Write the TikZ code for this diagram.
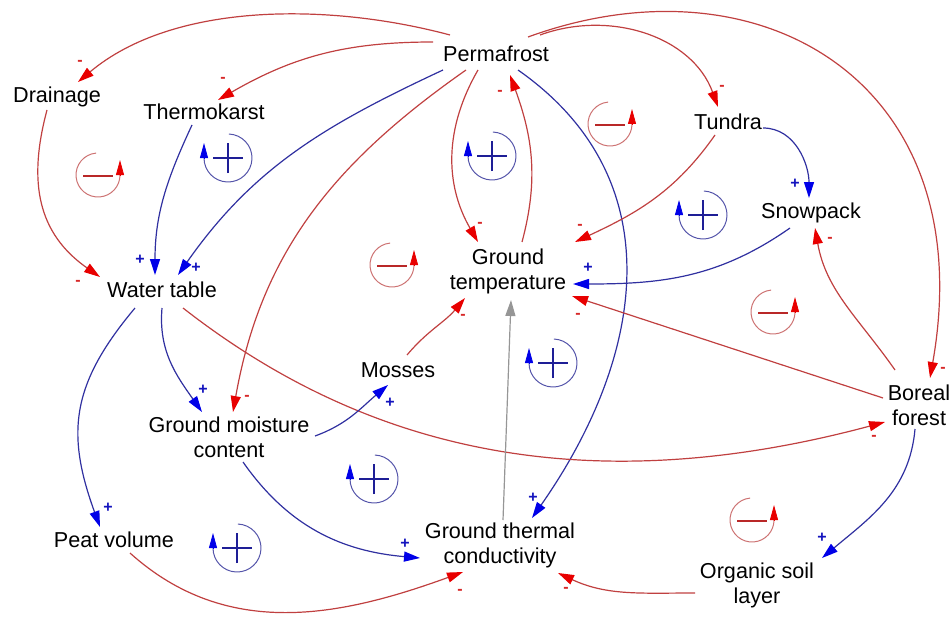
\documentclass[tikz,border=0pt]{standalone}
\usepackage{fontspec}
\setmainfont{Liberation Sans}
\usepackage{xcolor}
\usepackage{tikz}
\usetikzlibrary{arrows.meta}

\definecolor{negline}{RGB}{192,64,64}
\definecolor{posline}{RGB}{48,48,160}
\definecolor{negtip}{RGB}{232,0,0}
\definecolor{postip}{RGB}{0,0,232}
\definecolor{negsign}{RGB}{215,40,40}
\definecolor{possign}{RGB}{20,20,190}
\definecolor{loopneg}{RGB}{205,115,115}
\definecolor{loopdash}{RGB}{185,40,40}
\definecolor{looppos}{RGB}{85,85,170}
\definecolor{loopplus}{RGB}{30,30,150}
\definecolor{grayline}{RGB}{150,150,150}

\begin{document}
\begin{tikzpicture}[x=0.5pt, y=0.5pt,
  var/.style={font=\fontsize{10.8}{12.5}\selectfont, align=center, inner sep=0pt},
  neglink/.style={draw=negline, line width=0.6pt, -{Triangle[length=8pt,width=5pt,color=negtip]}},
  poslink/.style={draw=posline, line width=0.6pt, -{Triangle[length=8pt,width=5pt,color=postip]}},
  grylink/.style={draw=grayline, line width=0.6pt, -{Triangle[length=8pt,width=5pt]}},
  minussign/.style={text=negsign, font=\bfseries\fontsize{8}{8}\selectfont, inner sep=0pt},
  plussign/.style={text=possign, font=\bfseries\fontsize{8}{8}\selectfont, inner sep=0pt},
  negloop/.pic={
    \draw[loopneg, line width=0.5pt] (95:22) arc[start angle=95, end angle=360, radius=22];
    \draw[negtip, -{Triangle[length=7.5pt,width=4pt]}] (22,-1) -- (22,15);
    \draw[loopdash, line width=1.3pt] (-15,-1) -- (15,-1);
  },
  posloop/.pic={
    \draw[looppos, line width=0.5pt] (88:24) arc[start angle=88, end angle=-180, radius=24];
    \draw[postip, -{Triangle[length=7.5pt,width=4pt]}] (-24,-1) -- (-24,15);
    \draw[loopplus, line width=1.1pt] (-15,0) -- (15,0) (0,-15) -- (0,15);
  }]

\useasboundingbox (0,0) rectangle (951,617);

\node[var] (perm) at (496,563) {Permafrost};
\node[var] (drain) at (57,520) {Drainage};
\node[var] (thermo) at (204,505) {Thermokarst};
\node[var] (tundra) at (728,495) {Tundra};
\node[var] (snow) at (811,404) {Snowpack};
\node[var] (gtemp) at (508,346) {Ground\\temperature};
\node[var] (water) at (162,327) {Water table};
\node[var] (mosses) at (398,247) {Mosses};
\node[var] (boreal) at (919,212) {Boreal\\forest};
\node[var] (gmoist) at (229,180) {Ground moisture\\content};
\node[var] (peat) at (114,77) {Peat volume};
\node[var] (gtc) at (500,72) {Ground thermal\\conductivity};
\node[var] (org) at (757,32) {Organic soil\\layer};

% links out of permafrost
\draw[neglink] ([shift={(-46,19)}]perm.center) to[out=165,in=40,looseness=0.85] node[minussign,pos=1,shift={(2,19)}] {-} ([shift={(21,15)}]drain.center);
\draw[neglink] ([shift={(-63,12)}]perm.center) to[out=180,in=30] node[minussign,pos=1,shift={(5,20)}] {-} ([shift={(14,12)}]thermo.center);
\draw[poslink] ([shift={(-53,-16)}]perm.center) to[out=205,in=55] node[plussign,pos=1,shift={(18,7)}] {+} ([shift={(16,15)}]water.center);
\draw[neglink] ([shift={(-30,-16)}]perm.center) to[out=215,in=80] node[minussign,pos=1,shift={(14,14)}] {-} ([shift={(4,25)}]gmoist.center);
\draw[neglink] ([shift={(-18,-16)}]perm.center) to[out=240,in=120] node[minussign,pos=1,shift={(2,17)}] {-} ([shift={(-30,29)}]gtemp.center);
\draw[neglink] ([shift={(14,29)}]gtemp.center) to[out=75,in=290] node[minussign,pos=1,shift={(-10,-18)}] {-} ([shift={(14,-21)}]perm.center);
\draw[poslink] ([shift={(22,-16)}]perm.center) to[out=-35,in=55,looseness=1.1] node[plussign,pos=1,shift={(1,20)}] {+} ([shift={(32,27)}]gtc.center);
\draw[neglink] ([shift={(44,19)}]perm.center) to[out=20,in=110] node[minussign,pos=1,shift={(4,19)}] {-} ([shift={(-10,15)}]tundra.center);
\draw[neglink] ([shift={(32,17)}]perm.center) to[out=20,in=80,out looseness=1.2,in looseness=1.45] node[minussign,pos=1,shift={(13,8)}] {-} ([shift={(11,27)}]boreal.center);

% left side
\draw[poslink] ([shift={(-12,-13)}]thermo.center) to[out=245,in=90] node[plussign,pos=1,shift={(-15,15)}] {+} ([shift={(-7,15)}]water.center);
\draw[neglink] ([shift={(-10,-13)}]drain.center) to[out=255,in=145,looseness=1.1] node[minussign,pos=1,shift={(-22,-6)}] {-} ([shift={(-62,13)}]water.center);
\draw[poslink] ([shift={(0,-18)}]water.center) to[out=265,in=125] node[plussign,pos=1,shift={(1,22)}] {+} ([shift={(-27,25)}]gmoist.center);
\draw[poslink] ([shift={(-27,-18)}]water.center) to[out=230,in=110,looseness=1.15] node[plussign,pos=1,shift={(8,19)}] {+} ([shift={(-14,13)}]peat.center);
\draw[neglink] ([shift={(21,-18)}]water.center) to[out=-38,in=195,out looseness=0.8,in looseness=1.15] node[minussign,pos=1,shift={(-11,-16)}] {-} ([shift={(-34,-17)}]boreal.center);

% right side
\draw[neglink] ([shift={(-13,-13)}]tundra.center) to[out=235,in=25] node[minussign,pos=1,shift={(5,15)}] {-} ([shift={(67,29)}]gtemp.center);
\draw[poslink] ([shift={(35,-6)}]tundra.center) to[out=0,in=90] node[plussign,pos=1,shift={(-14,14)}] {+} ([shift={(-2,15)}]snow.center);
\draw[poslink] ([shift={(-21,-15)}]snow.center) to[out=215,in=0] node[plussign,pos=1,shift={(15,16)}] {+} ([shift={(65,-13)}]gtemp.center);
\draw[neglink] ([shift={(-24,35)}]boreal.center) to[out=125,in=280] node[minussign,pos=1,shift={(15,-12)}] {-} ([shift={(4,-15)}]snow.center);
\draw[neglink] ([shift={(-36,7)}]boreal.center) -- node[minussign,pos=1,shift={(6,-20)}] {-} ([shift={(64,-25)}]gtemp.center);
\draw[poslink] ([shift={(-4,-24)}]boreal.center) to[out=265,in=40] node[plussign,pos=1,shift={(0,20)}] {+} ([shift={(65,27)}]org.center);

% middle and bottom
\draw[poslink] ([shift={(86,1)}]gmoist.center) to[out=20,in=220] node[plussign,pos=1,shift={(2,-18)}] {+} ([shift={(-10,-15)}]mosses.center);
\draw[neglink] ([shift={(9,15)}]mosses.center) to[out=50,in=230] node[minussign,pos=1,shift={(-2,-19)}] {-} ([shift={(-43,-27)}]gtemp.center);
\draw[grylink] ([shift={(3,25)}]gtc.center) -- ([shift={(3,-29)}]gtemp.center);
\draw[poslink] ([shift={(14,-25)}]gmoist.center) to[out=305,in=175] node[plussign,pos=1,shift={(-15,14)}] {+} ([shift={(-80,-13)}]gtc.center);
\draw[neglink] ([shift={(16,-13)}]peat.center) to[out=-42,in=200] node[minussign,pos=1,shift={(-3,-20)}] {-} ([shift={(-37,-27)}]gtc.center);
\draw[neglink] ([shift={(-62,-8)}]org.center) to[out=180,in=335] node[minussign,pos=1,shift={(8,-17)}] {-} ([shift={(58,-28)}]gtc.center);

% loop markers
\pic at (98,442) {negloop};
\pic at (228,459) {posloop};
\pic at (492,461) {posloop};
\pic at (610,493) {negloop};
\pic at (703,402) {posloop};
\pic at (392,352) {negloop};
\pic at (773,305) {negloop};
\pic at (553,254) {posloop};
\pic at (374,138) {posloop};
\pic at (237,69) {posloop};
\pic at (752,97) {negloop};

\end{tikzpicture}
\end{document}
